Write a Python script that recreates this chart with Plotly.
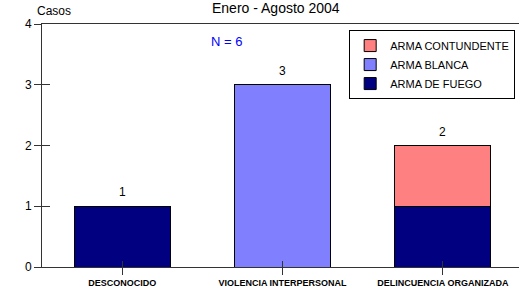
import plotly.graph_objects as go

categories = ["DESCONOCIDO", "VIOLENCIA INTERPERSONAL", "DELINCUENCIA ORGANIZADA"]
arma_fuego = [1, 0, 1]
arma_blanca = [0, 3, 0]
arma_contundente = [0, 0, 1]
series_names = ["ARMA DE FUEGO", "ARMA BLANCA", "ARMA CONTUNDENTE"]
series_colors = ["#000080", "#8080FF", "#FF8080"]
y_ticks = [0, 1, 2, 3, 4]

totals = [a + b + c for a, b, c in zip(arma_fuego, arma_blanca, arma_contundente)]

FONT = "Liberation Sans, Arial, sans-serif"
AXC = "#333333"

fig = go.Figure()
for name, vals, col in zip(series_names, [arma_fuego, arma_blanca, arma_contundente], series_colors):
    fig.add_trace(go.Bar(
        x=categories, y=vals, name=name, width=0.6,
        marker=dict(color=col, line=dict(color="#000000", width=1)),
        hoverinfo="skip",
    ))

# invisible helper trace so the overlay axes (inside tick marks) are drawn
fig.add_trace(go.Scatter(
    x=categories, y=totals, mode="markers", marker=dict(opacity=0),
    showlegend=False, xaxis="x2", yaxis="y2", hoverinfo="skip",
))

for cat, tot in zip(categories, totals):
    fig.add_annotation(x=cat, y=tot, text=str(tot), showarrow=False,
                       xref="x", yref="y", yanchor="bottom", yshift=5,
                       font=dict(size=12, color="#000000"))

xrange = [-0.5, 2.475]
yrange = [0, 4]

fig.update_layout(
    width=519, height=294,
    margin=dict(l=42, r=0, t=24, b=27, autoexpand=False),
    barmode="stack",
    plot_bgcolor="white", paper_bgcolor="white",
    font=dict(family=FONT, size=11, color="#000000"),
    xaxis=dict(
        type="category", range=xrange, categoryorder="array", categoryarray=categories,
        showline=True, linecolor=AXC, linewidth=1, mirror=True,
        ticks="outside", ticklen=7, tickcolor=AXC, tickwidth=1,
        tickfont=dict(size=9, family="Liberation Sans, Arial", weight="bold"),
        showgrid=False, zeroline=False, automargin=False,
    ),
    yaxis=dict(
        range=yrange, tickvals=y_ticks,
        showline=True, linecolor=AXC, linewidth=1,
        ticks="outside", ticklen=7, tickcolor=AXC, tickwidth=1,
        tickfont=dict(size=12), showgrid=False, zeroline=False, automargin=False,
    ),
    xaxis2=dict(
        type="category", range=xrange, categoryorder="array", categoryarray=categories,
        overlaying="x", anchor="y2", ticks="inside", ticklen=6, tickcolor=AXC,
        showticklabels=False, showgrid=False, zeroline=False, showline=False,
        automargin=False,
    ),
    yaxis2=dict(
        range=yrange, tickvals=y_ticks, overlaying="y", anchor="x2",
        ticks="inside", ticklen=8, tickcolor=AXC,
        showticklabels=False, showgrid=False, zeroline=False, showline=False,
        automargin=False,
    ),
    legend=dict(
        x=0.992, y=0.975, xanchor="right", yanchor="top",
        traceorder="reversed", bgcolor="white", bordercolor="#000000", borderwidth=1,
        font=dict(size=11), itemwidth=30, tracegroupgap=0,
    ),
    showlegend=True,
)

fig.add_annotation(text="Enero - Agosto 2004", xref="paper", yref="paper",
                   x=0.4916, y=1.0247, xanchor="center", yanchor="bottom",
                   showarrow=False, font=dict(size=14))
fig.add_annotation(text="Casos", xref="paper", yref="paper",
                   x=-0.0147, y=1.053, xanchor="left", yanchor="middle",
                   showarrow=False, font=dict(size=12))
fig.add_annotation(text="N = 6", xref="paper", yref="paper",
                   x=0.386, y=0.926, xanchor="center", yanchor="middle",
                   showarrow=False, font=dict(size=13, color="#0000FF"))

fig.write_html("out.html", config={"displayModeBar": False},
               post_script="document.body.style.margin='0px';")
